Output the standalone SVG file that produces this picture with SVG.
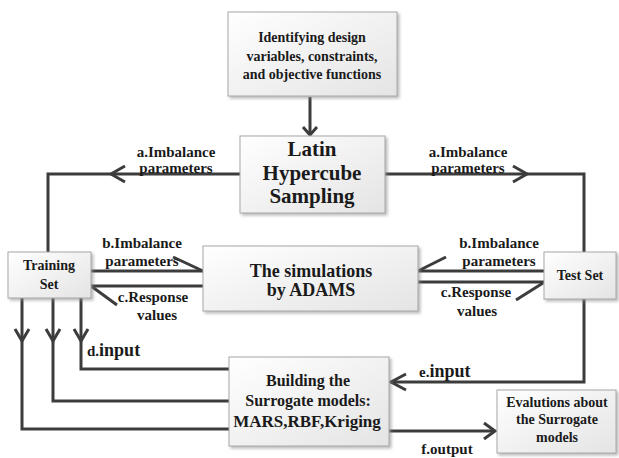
<svg xmlns="http://www.w3.org/2000/svg" width="619" height="458" viewBox="0 0 619 458">
<defs>
<linearGradient id="boxfill" x1="0" y1="0" x2="1" y2="1">
<stop offset="0" stop-color="#ffffff"/>
<stop offset="1" stop-color="#e4e4e4"/>
</linearGradient>
<filter id="sh" x="-10%" y="-10%" width="125%" height="130%">
<feDropShadow dx="2" dy="2" stdDeviation="1.5" flood-color="#8c8c8c" flood-opacity="0.6"/>
</filter>
</defs>
<style>
.box{fill:url(#boxfill);stroke:#a8a8a8;stroke-width:1;filter:url(#sh)}
text{font-family:'Liberation Serif','DejaVu Serif',serif;font-weight:bold;fill:#1a1a1a}
.c{text-anchor:middle}
.ln{fill:none;stroke:#3c3c3c;stroke-width:3;stroke-linejoin:miter}
.ar{fill:none;stroke:#3c3c3c;stroke-width:3;stroke-linejoin:miter;stroke-linecap:butt}
.lbl{font-size:15px}
</style>
<rect width="619" height="458" fill="#ffffff"/>

<g id="connectors" font-family="Liberation Serif, DejaVu Serif, serif">
<path class="ln" d="M310,97 V135"/>
<path class="ar" d="M303,127 L310,135 L317,127"/>
<path class="ln" d="M240,174 H48 V252"/>
<path class="ar" d="M125,166 L111,174 L125,182"/>
<path class="ln" d="M385,174 H584 V252"/>
<path class="ar" d="M513,166 L527,174 L513,182"/>
<path class="ln" d="M91,271 H203"/>
<path class="ar" d="M173,257 L203,271"/>
<path class="ln" d="M203,286 H91"/>
<path class="ar" d="M91,286 L117,305"/>
<path class="ln" d="M544,271 H418"/>
<path class="ar" d="M418,271 L446,257"/>
<path class="ln" d="M418,282 H544"/>
<path class="ar" d="M516,300 L543,283"/>
<path class="ln" d="M81,298 V369 H229"/>
<path class="ar" d="M74,329 L81,341 L88,329"/>
<path class="ln" d="M53,298 V401 H229"/>
<path class="ar" d="M46,329 L53,341 L60,329"/>
<path class="ln" d="M22,298 V429 H229"/>
<path class="ar" d="M15,329 L22,341 L29,329"/>
<path class="ln" d="M584,299 V382 H390"/>
<path class="ar" d="M406,374 L391,382 L406,390"/>
<path class="ln" d="M389,431 H494"/>
<path class="ar" d="M484,423 L495,431 L484,439"/>
<text class="lbl c" x="176" y="157">a.Imbalance</text>
<text class="lbl c" x="176" y="173">parameters</text>
<text class="lbl c" x="468" y="157">a.Imbalance</text>
<text class="lbl c" x="468" y="173">parameters</text>
<text class="lbl c" x="142" y="248">b.Imbalance</text>
<text class="lbl c" x="142" y="266">parameters</text>
<text class="lbl c" x="153" y="302">c.Response</text>
<text class="lbl c" x="157" y="320">values</text>
<text class="lbl c" x="499" y="248">b.Imbalance</text>
<text class="lbl c" x="499" y="266">parameters</text>
<text class="lbl c" x="476" y="297">c.Response</text>
<text class="lbl c" x="477" y="316">values</text>
<text x="87" y="356"><tspan font-size="15">d.</tspan><tspan font-size="18">input</tspan></text>
<text x="419" y="377"><tspan font-size="15">e.</tspan><tspan font-size="18">input</tspan></text>
<text class="lbl c" x="447" y="454">f.output</text>
</g>

<g id="n-identify">
<rect class="box" x="228" y="12" width="169" height="84"/>
<text class="c" x="312" y="42" font-size="14">Identifying design</text>
<text class="c" x="312" y="61" font-size="14">variables, constraints,</text>
<text class="c" x="312" y="79" font-size="14">and objective functions</text>
</g>

<g id="n-lhs">
<rect class="box" x="240" y="136" width="145" height="77"/>
<text class="c" x="312" y="156" font-size="21">Latin</text>
<text class="c" x="312" y="180" font-size="21">Hypercube</text>
<text class="c" x="312" y="203" font-size="21">Sampling</text>
</g>

<g id="n-training">
<rect class="box" x="8" y="252" width="83" height="46"/>
<text class="c" x="49" y="270" font-size="14">Training</text>
<text class="c" x="49" y="289" font-size="14">Set</text>
</g>

<g id="n-sim">
<rect class="box" x="203" y="246" width="215" height="65"/>
<text class="c" x="311" y="277" font-size="18">The simulations</text>
<text class="c" x="311" y="296" font-size="18">by ADAMS</text>
</g>

<g id="n-test">
<rect class="box" x="544" y="252" width="72" height="47"/>
<text class="c" x="580" y="280" font-size="14">Test Set</text>
</g>

<g id="n-build">
<rect class="box" x="229" y="357" width="160" height="89"/>
<text class="c" x="308" y="386" font-size="16">Building the</text>
<text class="c" x="308" y="406" font-size="16">Surrogate models:</text>
<text class="c" x="307" y="427" font-size="17">MARS,RBF,Kriging</text>
</g>

<g id="n-eval">
<rect class="box" x="497" y="390" width="119" height="63"/>
<text class="c" x="557" y="407" font-size="14">Evalutions about</text>
<text class="c" x="557" y="424" font-size="14">the Surrogate</text>
<text class="c" x="557" y="442" font-size="14">models</text>
</g>
</svg>
